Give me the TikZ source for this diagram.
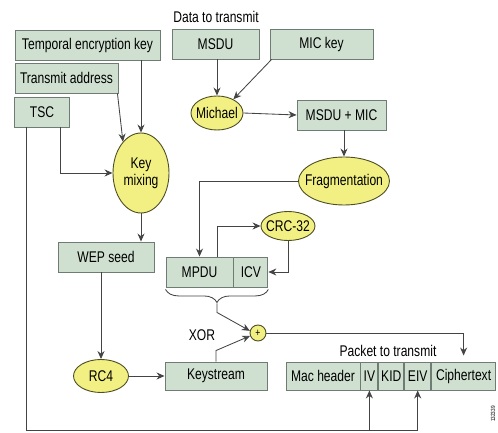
\documentclass[tikz,border=0pt]{standalone}
\usepackage{fontspec}
\setmainfont{Liberation Sans}[FakeStretch=0.78]
\usetikzlibrary{arrows.meta, decorations.pathreplacing, shapes.geometric}

\definecolor{boxfill}{HTML}{CFDFD0}
\definecolor{boxline}{HTML}{6F7C74}
\definecolor{ovalfill}{HTML}{F2F082}
\definecolor{ovalline}{HTML}{4E4E24}
\definecolor{wire}{HTML}{444444}

\tikzset{
    caption/.style={font=\fontsize{15.5}{17}\selectfont, inner sep=0pt},
    field/.style={draw=boxline, fill=boxfill, line width=0.9pt, inner sep=0pt,
        minimum height=30pt, font=\fontsize{15.5}{17}\selectfont},
    oval/.style={ellipse, draw=ovalline, fill=ovalfill, line width=0.9pt, inner sep=0pt,
        label={[caption, align=center]center:#1}},
    wire/.style={draw=wire, line width=0.85pt},
    flow/.style={wire, -{Stealth[length=8pt, width=7pt]}}
}

\begin{document}
\begin{tikzpicture}[x=1pt, y=-1pt]
                \useasboundingbox (0,0) rectangle (498,433);

                % key inputs on the left
                \node[field, minimum width=145pt] (tek) at (87.5,45) {Temporal encryption key};
                \node[field, minimum width=103pt] (addr) at (66.5,78) {Transmit address};
                \node[field, minimum width=55pt] (tsc) at (42,112) {TSC};
                \node[oval={Key\\mixing}, minimum width=56pt, minimum height=80pt] (keymix) at (141,173) {};
                \node[field, minimum width=96pt] (wep) at (106,257) {WEP seed};
                \node[oval=RC4, minimum width=55pt, minimum height=33pt] (rc4) at (101,376) {};
                \node[field, minimum width=102pt, minimum height=28pt] (keystream) at (216,376) {Keystream};

                % data path
                \node[caption] (datalbl) at (216,17) {Data to transmit};
                \node[field, minimum width=87pt] (msdu) at (215.5,44) {MSDU};
                \node[field, minimum width=103pt] (mickey) at (321.5,44) {MIC key};
                \node[oval=Michael, minimum width=52pt, minimum height=34pt] (michael) at (217,113) {};
                \node[field, minimum width=89pt] (msdumic) at (341.5,115) {MSDU + MIC};
                \node[oval=Fragmentation, minimum width=91pt, minimum height=48pt] (frag) at (344,181) {};
                \node[oval=CRC-32, minimum width=54pt, minimum height=29pt] (crc) at (288,226) {};
                \node[field, minimum width=67pt] (mpdu) at (199.5,272) {MPDU};
                \node[field, minimum width=34pt, anchor=west] (icv) at (mpdu.east) {ICV};

                % xor
                \node[circle, draw=ovalline, fill=ovalfill, line width=0.9pt, minimum size=16pt,
                    inner sep=0pt, font=\fontsize{11}{11}\selectfont] (plus) at (258,333) {+};
                \node[caption] (xorlbl) at (202,335) {XOR};

                % packet to transmit
                \node[caption] (pktlbl) at (388,351) {Packet to transmit};
                \node[field, minimum width=74pt, minimum height=28pt] (mac) at (323,376) {Mac header};
                \node[field, minimum width=17pt, minimum height=28pt, anchor=west] (iv) at (mac.east) {IV};
                \node[field, minimum width=25pt, minimum height=28pt, anchor=west] (kid) at (iv.east) {KID};
                \node[field, minimum width=26pt, minimum height=28pt, anchor=west] (eiv) at (kid.east) {EIV};
                \node[field, minimum width=64pt, minimum height=28pt, anchor=west] (cipher) at (eiv.east) {Ciphertext};

                \node[rotate=90, font=\fontsize{6}{6}\selectfont, inner sep=0pt] (fignum) at (493,414) {132339};

                % key mixing connectors
                \draw[flow] (keymix.north |- tek.south) -- (keymix.north);
                \draw[flow] ([xshift=-1pt]addr.south east) -- (keymix.120);
                \draw[flow] ([xshift=-10pt]tsc.south east) |- (keymix.west);
                \draw[flow] (keymix.south) -- (keymix.south |- wep.north);
                \draw[flow] (rc4.north |- wep.south) -- (rc4.north);
                \draw[flow] (rc4.east) -- (keystream.west);

                % TSC down to IV and EIV
                \coordinate (base) at (0,430);
                \draw[flow] ([xshift=12pt]tsc.south west) |- (eiv.south |- base) -- (eiv.south);
                \draw[flow] (iv.south |- base) -- (iv.south);

                % data connectors
                \draw[flow] (michael.north |- msdu.south) -- (michael.north);
                \draw[flow] ([xshift=2pt]mickey.south west) -- (michael.40);
                \draw[flow] (michael.east) -- (msdumic.west);
                \draw[flow] (frag.north |- msdumic.south) -- (frag.north);
                \draw[flow] (frag.west) -| (mpdu.north);
                \draw[flow] ([xshift=-16pt]mpdu.north east) |- (crc.west);
                \draw[flow] (crc.south) |- (icv.east);

                % brace and xor inputs
                \draw[wire, decorate, decoration={brace, mirror, amplitude=13pt, raise=2pt}]
                    (mpdu.south west) -- (icv.south east);
                \path (mpdu.south west) -- (icv.south east) coordinate[midway, yshift=-16pt] (btip);
                \draw[flow] (btip) -- ++(0,9) -- (plus.165);
                \draw[flow] (keystream.north) -- ++(0,-11) -- (plus.200);
                \draw[flow, shorten >=6pt] (plus.east) -| (cipher.north);

            \end{tikzpicture}
\end{document}
